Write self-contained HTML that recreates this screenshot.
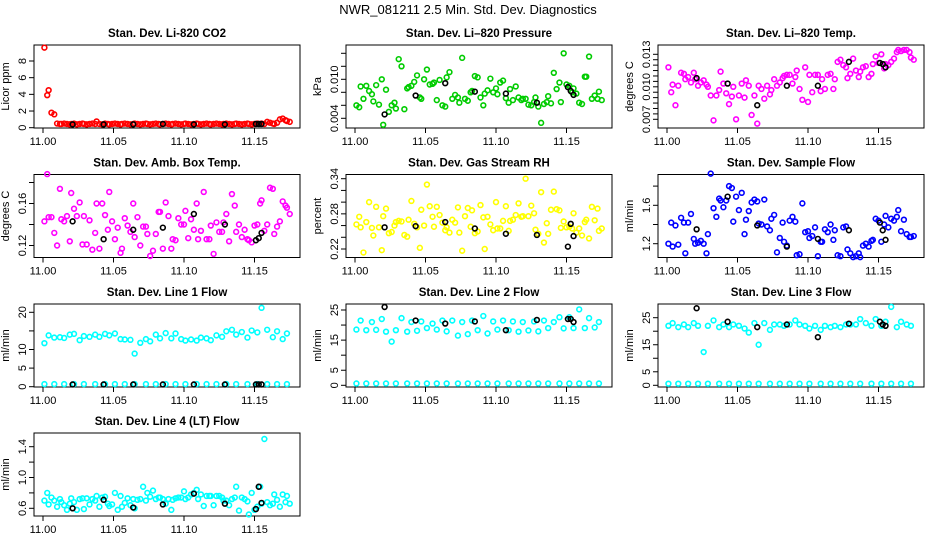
<!DOCTYPE html>
<html><head><meta charset="utf-8">
<style>
html,body{margin:0;padding:0;background:#fff;}
svg{display:block;font-family:"Liberation Sans",sans-serif;}
</style></head>
<body>
<svg id="chart" width="936" height="540" viewBox="0 0 936 540">
<text x="468" y="14" text-anchor="middle" font-size="13">NWR_081211  2.5 Min. Std. Dev. Diagnostics</text>
</svg>
<script>
const times=[11.001,11.003,11.004,11.006,11.008,11.010,11.012,11.013,11.015,11.017,
11.019,11.020,11.022,11.024,11.026,11.028,11.029,11.031,11.033,11.035,
11.037,11.038,11.040,11.042,11.044,11.046,11.047,11.049,11.051,11.053,
11.055,11.056,11.058,11.060,11.062,11.064,11.065,11.067,11.069,11.071,
11.073,11.074,11.076,11.078,11.080,11.082,11.083,11.085,11.087,11.089,
11.091,11.092,11.094,11.096,11.098,11.100,11.101,11.103,11.105,11.107,
11.109,11.110,11.112,11.114,11.116,11.118,11.119,11.121,11.123,11.125,
11.127,11.128,11.130,11.132,11.134,11.136,11.137,11.139,11.141,11.143,
11.145,11.146,11.148,11.150,11.152,11.154,11.155,11.157,11.159,11.161,
11.163,11.164,11.166,11.168,11.170,11.172,11.173,11.175];
const blackTimes=[11.021,11.043,11.064,11.085,11.107,11.129,11.151,11.153,11.155];
const xTicks=[11.00,11.05,11.10,11.15];
const xTickLabels=["11.00","11.05","11.10","11.15"];

const co2=[9.6,3.9,4.5,1.8,1.6,0.5,0.45,0.45,0.5,0.45,
0.4,0.45,0.5,0.4,0.45,0.5,0.45,0.4,0.45,0.5,
0.45,0.75,0.45,0.4,0.5,0.45,0.4,0.45,0.5,0.45,
0.4,0.45,0.5,0.45,0.4,0.45,0.5,0.45,0.4,0.45,
0.5,0.45,0.4,0.45,0.5,0.45,0.4,0.45,0.5,0.45,
0.4,0.45,0.5,0.45,0.4,0.45,0.5,0.45,0.4,0.45,
0.5,0.45,0.4,0.45,0.5,0.45,0.4,0.45,0.5,0.45,
0.4,0.45,0.5,0.45,0.4,0.45,0.5,0.45,0.4,0.45,
0.5,0.45,0.4,0.45,0.5,0.45,0.5,0.45,0.7,0.6,
0.5,0.45,0.6,1.0,1.1,0.9,0.8,0.7];
const pressure=[0.0060,0.0057,0.0089,0.0070,0.0090,0.0082,0.0077,0.0066,0.0091,0.0061,
0.0100,0.0030,0.0084,0.0050,0.0060,0.0064,0.0055,0.0131,0.0120,0.0054,
0.0086,0.0088,0.0090,0.0096,0.0106,0.0072,0.0070,0.0100,0.0115,0.0092,
0.0093,0.0095,0.0068,0.0099,0.0060,0.0058,0.0103,0.0111,0.0070,0.0076,
0.0072,0.0064,0.0133,0.0070,0.0067,0.0080,0.0082,0.0105,0.0103,0.0072,
0.0060,0.0078,0.0083,0.0101,0.0080,0.0086,0.0077,0.0095,0.0098,0.0071,
0.0064,0.0085,0.0068,0.0089,0.0072,0.0068,0.0070,0.0070,0.0061,0.0060,
0.0065,0.0072,0.0058,0.0033,0.0062,0.0065,0.0074,0.0063,0.0110,0.0085,
0.0095,0.0065,0.0140,0.0092,0.0090,0.0080,0.0086,0.0078,0.0064,0.0062,
0.0104,0.0104,0.0135,0.0070,0.0075,0.0070,0.0081,0.0068];
const temp=[0.0118,0.0095,0.0102,0.0083,0.0101,0.0113,0.0112,0.0107,0.0109,0.0104,
0.0113,0.0107,0.0101,0.0104,0.0106,0.0102,0.0100,0.0092,0.0069,0.0092,
0.0097,0.0114,0.0103,0.0094,0.0084,0.0091,0.0100,0.0070,0.0092,0.0103,
0.0090,0.0106,0.0101,0.0074,0.0092,0.0066,0.0101,0.0098,0.0089,0.0101,
0.0093,0.0097,0.0107,0.0101,0.0104,0.0108,0.0110,0.0111,0.0111,0.0103,
0.0109,0.0115,0.0098,0.0088,0.0118,0.0086,0.0111,0.0095,0.0111,0.0111,
0.0096,0.0107,0.0098,0.0111,0.0112,0.0098,0.0107,0.0123,0.0125,0.0120,
0.0118,0.0108,0.0112,0.0126,0.0115,0.0109,0.0114,0.0118,0.0119,0.0109,
0.0112,0.0121,0.0128,0.0122,0.0130,0.0117,0.0121,0.0120,0.0123,0.0126,
0.0132,0.0134,0.0133,0.0134,0.0134,0.0132,0.0127,0.0125];
const ambTemp=[0.143,0.188,0.147,0.147,0.132,0.120,0.174,0.145,0.143,0.148,
0.124,0.170,0.155,0.148,0.161,0.121,0.148,0.121,0.144,0.116,
0.132,0.160,0.117,0.160,0.149,0.135,0.171,0.143,0.126,0.137,
0.113,0.117,0.146,0.139,0.133,0.160,0.128,0.147,0.120,0.138,
0.138,0.131,0.110,0.115,0.131,0.152,0.152,0.117,0.161,0.148,
0.117,0.126,0.125,0.146,0.140,0.140,0.153,0.127,0.145,0.135,
0.160,0.126,0.134,0.171,0.126,0.126,0.139,0.112,0.142,0.133,
0.133,0.142,0.150,0.124,0.169,0.158,0.133,0.140,0.128,0.135,
0.126,0.125,0.123,0.139,0.140,0.160,0.163,0.134,0.140,0.175,
0.174,0.131,0.138,0.143,0.162,0.158,0.156,0.150];
const rh=[0.262,0.275,0.257,0.214,0.266,0.300,0.256,0.243,0.292,0.257,
0.218,0.276,0.289,0.247,0.249,0.260,0.266,0.268,0.267,0.244,
0.241,0.270,0.302,0.263,0.257,0.222,0.287,0.260,0.330,0.293,
0.275,0.258,0.292,0.278,0.265,0.252,0.257,0.248,0.270,0.265,
0.291,0.248,0.217,0.276,0.290,0.258,0.286,0.247,0.250,0.295,
0.274,0.220,0.275,0.262,0.252,0.300,0.255,0.255,0.268,0.293,
0.251,0.268,0.270,0.278,0.298,0.275,0.276,0.340,0.276,0.294,
0.281,0.253,0.246,0.317,0.231,0.264,0.246,0.287,0.318,0.288,
0.286,0.256,0.267,0.257,0.258,0.255,0.281,0.248,0.255,0.243,
0.266,0.270,0.238,0.292,0.269,0.289,0.251,0.255];
const sampleFlow=[1.20,1.42,1.17,1.39,1.19,1.47,1.42,1.10,1.42,1.51,
1.25,1.20,1.21,1.23,1.20,1.10,1.30,1.93,1.57,1.48,
1.67,1.65,1.58,1.65,1.80,1.78,1.43,1.69,1.55,1.73,
1.30,1.45,1.54,1.63,1.66,1.64,1.41,1.40,1.66,1.38,
1.34,1.46,1.50,1.11,1.26,1.42,1.22,1.18,1.44,1.48,
1.43,1.08,1.09,1.62,1.32,1.33,1.26,1.28,1.37,1.07,
1.22,1.22,1.35,1.32,1.40,1.24,1.34,1.08,1.07,1.37,
1.38,1.14,1.10,1.06,1.07,1.10,1.06,1.18,1.20,1.17,
1.23,1.24,1.46,1.44,1.22,1.40,1.49,1.37,1.46,1.44,
1.48,1.55,1.33,1.45,1.30,1.27,1.27,1.28];
const line1Hi=[11.7,13.8,13.2,13.3,13.1,14.0,14.2,12.5,13.6,13.4,
14.0,13.4,14.2,13.8,14.3,12.8,12.7,12.6,8.9,11.8,
12.8,12.2,14.0,13.0,14.4,13.0,14.3,12.8,12.4,12.7,
12.4,13.2,13.0,12.5,13.8,13.4,14.9,15.3,14.0,14.7,
13.2,15.1,14.6,21.2,15.3,13.3,14.9,12.8,14.3];
const line1Lo=[0.7,0.7,0.7,0.7,0.7,0.7,0.7,0.7,0.7,0.7,0.7,0.7,0.7,0.7,0.7,0.7,0.7,0.7,0.7,0.7,0.7,0.7,0.7,0.7,0.7];
const line2Hi=[18.5,21.5,18.3,21,18.4,22,17.8,14.5,18.3,22.3,
17.8,21,18.1,21.2,19,20.5,18.5,21.5,17.9,21.5,
16.5,21,17,21.5,18.3,23,17.2,21.2,18.5,21.5,
18.3,21.2,17.8,21,18.2,21.2,17.9,21.5,19,21,
22.6,18.9,22.6,19.0,25.2,19.0,22.3,19.2,21.0];
const line2Lo=[0.6,0.6,0.6,0.6,0.6,0.6,0.6,0.6,0.6,0.6,0.6,0.6,0.6,0.6,0.6,0.6,0.6,0.6,0.6,0.6,0.6,0.6,0.6,0.6,0.6];
const line3Hi=[22,23,21.5,22.5,21.5,23,22,12.3,22,24,
21.5,22.5,21.5,22.5,22,21,19.5,23,15,23,
20.5,22.5,22.5,22,22.5,24,22.5,22,21,22,
20.5,22,21.5,22,21.5,22.5,22.5,22.5,24.5,23,
22,24.5,22,23.5,29,21.5,23.5,22.5,22];
const line3Lo=[0.6,0.6,0.6,0.6,0.6,0.6,0.6,0.6,0.6,0.6,0.6,0.6,0.6,0.6,0.6,0.6,0.6,0.6,0.6,0.6,0.6,0.6,0.6,0.6,0.6];
const line4=[0.70,0.80,0.65,0.74,0.70,0.62,0.72,0.68,0.64,0.58,
0.66,0.73,0.68,0.58,0.72,0.73,0.59,0.73,0.65,0.72,
0.70,0.76,0.62,0.74,0.75,0.66,0.63,0.65,0.80,0.58,
0.76,0.62,0.67,0.73,0.64,0.72,0.60,0.71,0.72,0.88,
0.70,0.80,0.75,0.83,0.72,0.74,0.74,0.72,0.66,0.72,
0.58,0.71,0.73,0.74,0.74,0.82,0.72,0.74,0.78,0.80,
0.84,0.72,0.78,0.63,0.76,0.76,0.76,0.64,0.76,0.76,
0.74,0.70,0.70,0.64,0.72,0.74,0.88,0.57,0.74,0.72,
0.69,0.52,0.80,0.58,0.62,0.88,0.66,1.50,0.68,0.64,
0.66,0.78,0.71,0.62,0.78,0.68,0.76,0.66];
const blackCo2=[0.4,0.4,0.4,0.45,0.4,0.4,0.45,0.45,0.45];
const blackPressure=[0.0046,0.0075,0.0094,0.0081,0.0078,0.0064,0.0088,0.0082,0.0076];
const blackTemp=[0.0108,0.0103,0.0083,0.0101,0.0101,0.0123,0.0122,0.0121,0.0118];
const blackAmb=[0.143,0.126,0.135,0.137,0.150,0.140,0.125,0.127,0.132];
const blackRh=[0.257,0.259,0.266,0.255,0.246,0.244,0.224,0.263,0.242];
const blackSample=[1.35,1.69,1.39,1.17,1.25,1.34,1.42,1.34,1.24];
const blackLine1=[0.6,0.6,0.6,0.6,0.6,0.6,0.6,0.6,0.6];
const blackLine2=[26,21.5,20.5,21.2,18.3,21.7,22,22,21];
const blackLine3=[28.5,23.5,21.5,22.5,17.8,22.8,23.5,22.5,22];
const blackLine4=[0.60,0.71,0.61,0.65,0.79,0.66,0.59,0.88,0.67];

const NS="http://www.w3.org/2000/svg";
const svg=document.getElementById('chart');
function mk(tag,attrs,parent){const e=document.createElementNS(NS,tag);for(const k in attrs)e.setAttribute(k,attrs[k]);(parent||svg).appendChild(e);return e;}

const panels=[
 {name:'co2',title:'Stan. Dev. Li-820 CO2',ylab:'Licor ppm',col:0,row:0,v1:0,p1:127.7,v2:8,p2:61,ticks:[0,2,4,6,8],labels:['0','2','4','6','8'],color:'#ff0000',series:[[times,co2,1]],black:blackCo2},
 {name:'pressure',title:'Stan. Dev. Li\u2013820 Pressure',ylab:'kPa',col:1,row:0,v1:0.004,p1:118.3,v2:0.010,p2:79.3,ticks:[0.004,0.006,0.008,0.010,0.012,0.014],labels:['0.004','','','0.010','',''],color:'#00cc00',series:[[times,pressure,1]],black:blackPressure},
 {name:'temp',title:'Stan. Dev. Li\u2013820 Temp.',ylab:'degrees C',col:2,row:0,v1:0.007,p1:119.3,v2:0.013,p2:54.3,ticks:[0.007,0.0075,0.008,0.0085,0.009,0.0095,0.010,0.0105,0.011,0.0115,0.012,0.0125,0.013],labels:['0.007','','','','','','0.010','','','','','','0.013'],color:'#ff00ff',series:[[times,temp,1]],black:blackTemp},
 {name:'amb-temp',title:'Stan. Dev. Amb. Box Temp.',ylab:'degrees C',col:0,row:1,v1:0.12,p1:245.5,v2:0.16,p2:203.5,ticks:[0.12,0.14,0.16,0.18],labels:['0.12','','0.16',''],color:'#ff00ff',series:[[times,ambTemp,1]],black:blackAmb},
 {name:'rh',title:'Stan. Dev. Gas Stream RH',ylab:'percent',col:1,row:1,v1:0.22,p1:249,v2:0.34,p2:178.7,ticks:[0.22,0.24,0.26,0.28,0.30,0.32,0.34],labels:['0.22','','','0.28','','','0.34'],color:'#ffff00',series:[[times,rh,1]],black:blackRh},
 {name:'sample-flow',title:'Stan. Dev. Sample Flow',ylab:'ml/min',col:2,row:1,v1:1.2,p1:243.7,v2:1.6,p2:205.3,ticks:[1.2,1.4,1.6,1.8],labels:['1.2','','1.6',''],color:'#0000ff',series:[[times,sampleFlow,1]],black:blackSample},
 {name:'line1-flow',title:'Stan. Dev. Line 1 Flow',ylab:'ml/min',col:0,row:2,v1:0,p1:386.7,v2:20,p2:312.3,ticks:[0,5,10,15,20],labels:['0','5','10','','20'],color:'#00ffff',series:[[times,line1Hi,2],[times,line1Lo,4]],black:blackLine1},
 {name:'line2-flow',title:'Stan. Dev. Line 2 Flow',ylab:'ml/min',col:1,row:2,v1:0,p1:385.3,v2:25,p2:310,ticks:[0,5,10,15,20,25],labels:['0','5','','15','','25'],color:'#00ffff',series:[[times,line2Hi,2],[times,line2Lo,4]],black:blackLine2},
 {name:'line3-flow',title:'Stan. Dev. Line 3 Flow',ylab:'ml/min',col:2,row:2,v1:0,p1:385.3,v2:25,p2:317.7,ticks:[0,5,10,15,20,25],labels:['0','5','','15','','25'],color:'#00ffff',series:[[times,line3Hi,2],[times,line3Lo,4]],black:blackLine3},
 {name:'line4-flow',title:'Stan. Dev. Line 4 (LT) Flow',ylab:'ml/min',col:0,row:3,v1:0.6,p1:508.3,v2:1.4,p2:446.7,ticks:[0.6,0.8,1.0,1.2,1.4],labels:['0.6','','1.0','','1.4'],color:'#00ffff',series:[[times,line4,1]],black:blackLine4}
];
const colLeft=[34,346,658], rowTop=[45,174.5,304,433], W=266, H=83;

panels.forEach(p=>{
  const L=colLeft[p.col], T=rowTop[p.row];
  const g=mk('g',{});
  
  
  const xs=t=>L+9+(t-11.0)*1410;
  const ys=v=>p.p1+(v-p.v1)*(p.p2-p.p1)/(p.v2-p.v1);
  const title=mk('text',{x:L+W/2,y:T-8,'text-anchor':'middle','font-size':'11.5','font-weight':'bold'},g);
  title.textContent=p.title;
  
  
  const box=mk('rect',{x:L,y:T,width:W,height:H,fill:'none',stroke:'#000','stroke-width':1},g);
  
  
  xTicks.forEach((t,i)=>{
    const x=xs(t);
    mk('line',{x1:x,y1:T+H,x2:x,y2:T+H+5,stroke:'#000'},g);
    const tx=mk('text',{x:x,y:T+H+17,'text-anchor':'middle','font-size':'11'},g);
    tx.textContent=xTickLabels[i];
    
    
  });
  p.ticks.forEach((v,i)=>{
    const y=ys(v);
    mk('line',{x1:L-5,y1:y,x2:L,y2:y,stroke:'#000'},g);
    if(p.labels[i]){
      const tx=mk('text',{x:L-8,y:y,'text-anchor':'middle','font-size':'11',transform:`rotate(-90 ${L-8} ${y})`},g);
      tx.textContent=p.labels[i];
      
      
    }
  });
  const yl=mk('text',{x:L-25,y:T+H/2,'text-anchor':'middle','font-size':'11',transform:`rotate(-90 ${L-25} ${T+H/2})`},g);
  yl.textContent=p.ylab;
  
  
  p.series.forEach(s=>{
    const [tt,vals,step]=s;
    vals.forEach((v,i)=>{
      const c=mk('circle',{cx:xs(tt[i*step]),cy:ys(v),r:2.4,fill:'none',stroke:p.color,'stroke-width':1.6},g);
      
      
    });
  });
  p.black.forEach((v,i)=>{
    const c=mk('circle',{cx:xs(blackTimes[i]),cy:ys(v),r:2.4,fill:'none',stroke:'#000','stroke-width':1.6},g);
    
    
  });
});
</script>
</body></html>
